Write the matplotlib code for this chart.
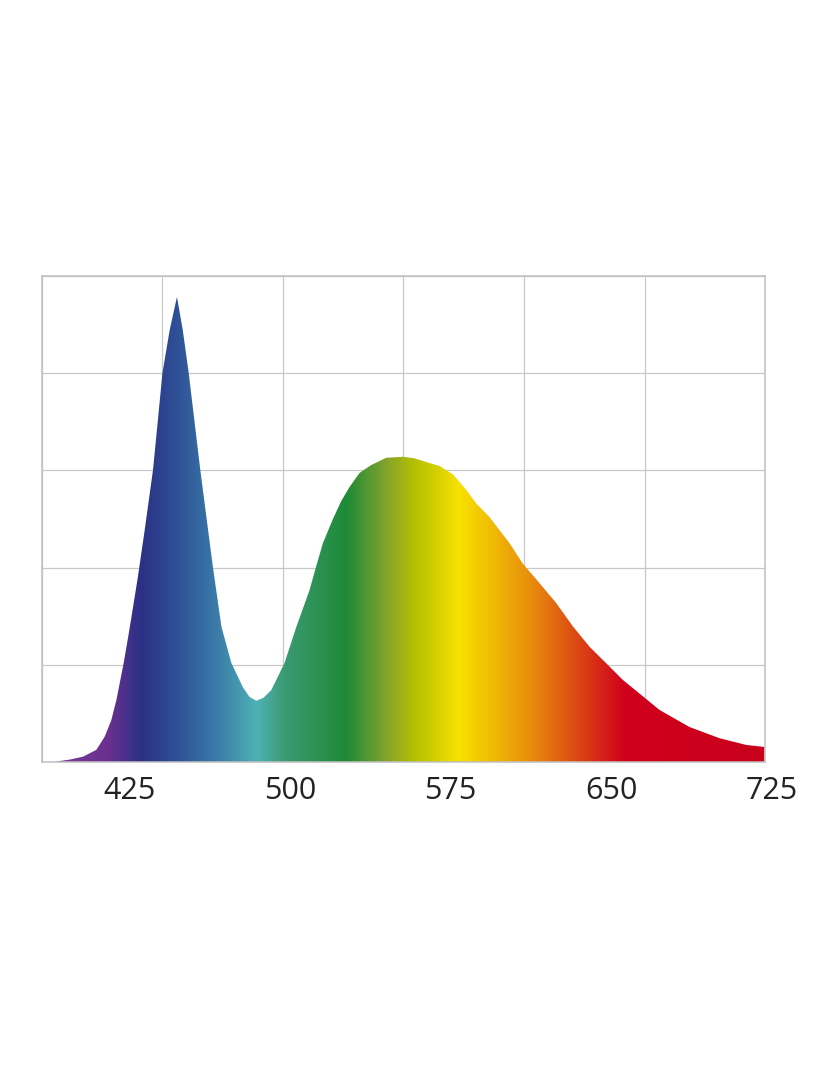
import numpy as np
import matplotlib.pyplot as plt
from matplotlib.colors import LinearSegmentedColormap
from matplotlib.patches import Polygon

# Spectrum outline (wavelength nm, relative intensity)
wavelength = [390.0, 392.3, 397.0, 403.2, 409.4, 413.3, 416.4, 418.8, 422.2, 424.5,
              426.5, 428.9, 432.0, 435.9, 438.1, 440.3, 443.7, 447.1, 449.8, 452.6,
              458.0, 463.9, 467.9, 472.5, 477.9, 481.0, 484.2, 487.5, 491.2, 497.4,
              502.9, 509.1, 512.2, 515.3, 520.0, 523.9, 527.8, 532.5, 537.9, 544.9,
              552.7, 558.0, 563.8, 569.9, 576.1, 582.3, 587.0, 593.2, 597.9, 602.6,
              608.8, 616.6, 624.4, 632.2, 640.0, 647.8, 655.5, 663.3, 672.7, 686.7,
              700.7, 713.3, 721.7]
intensity = [0.0, 0.002, 0.005, 0.011, 0.025, 0.052, 0.086, 0.128, 0.204, 0.263,
             0.317, 0.383, 0.477, 0.601, 0.700, 0.800, 0.889, 0.957, 0.889, 0.800,
             0.601, 0.401, 0.278, 0.204, 0.154, 0.134, 0.126, 0.132, 0.148, 0.204,
             0.278, 0.354, 0.403, 0.450, 0.500, 0.537, 0.566, 0.595, 0.611, 0.626,
             0.628, 0.625, 0.617, 0.609, 0.592, 0.560, 0.532, 0.504, 0.477, 0.450,
             0.408, 0.368, 0.327, 0.279, 0.237, 0.203, 0.169, 0.141, 0.107, 0.072,
             0.049, 0.035, 0.031]

# colour stops of the rainbow fill (wavelength -> colour)
stop_wl = [384.0, 414.3, 429.7, 446.0, 464.7, 484.3, 497.4, 526.4, 545.0,
           558.2, 579.2, 612.0, 657.2, 722.0]
stop_colors = ['#7b3f98', '#6b2f8f', '#2b3186', '#2e4f96', '#3a7aa8', '#4fb1b5',
               '#3a9a72', '#1e8a36', '#84a42c', '#b4c000', '#f7e100', '#e8900c',
               '#d0001c', '#c8001c']

tick_values = [425, 500, 575, 650, 725]

x0, x1 = 384.0, 722.0

fig = plt.figure(figsize=(8.4, 10.8), dpi=100)
ax = fig.add_axes([42 / 840, 1 - 762 / 1080, 723 / 840, 486 / 1080])
ax.set_xlim(x0, x1)
ax.set_ylim(0, 1)

# grid
ax.set_xticks(np.linspace(x0, x1, 7))
ax.set_yticks(np.linspace(0, 1, 6))
ax.grid(True, color='#c8c8c8', linewidth=0.9)
ax.tick_params(length=0, labelbottom=False, labelleft=False)
for s in ax.spines.values():
    s.set_color('#c0c0c0')
    s.set_linewidth(1.1)
ax.set_axisbelow(True)

# gradient fill clipped to the spectrum
pos = [(w - x0) / (x1 - x0) for w in stop_wl]
cmap = LinearSegmentedColormap.from_list('spec', list(zip(pos, stop_colors)))
grad = np.linspace(0, 1, 1000).reshape(1, -1)
img = ax.imshow(grad, cmap=cmap, extent=[x0, x1, 0, 1], aspect='auto',
                interpolation='bilinear', zorder=2)
verts = [(wavelength[0], 0)] + list(zip(wavelength, intensity)) + [(wavelength[-1], 0)]
poly = Polygon(verts, closed=True, facecolor='none', edgecolor='none')
ax.add_patch(poly)
img.set_clip_path(poly)

# tick labels
for t in tick_values:
    ax.text(t, -0.06, str(t), transform=ax.get_xaxis_transform(), ha='center',
            va='center', fontsize=22, color='#222222', family='Open Sans',
            clip_on=False)

fig.savefig('out.png', dpi=100)
